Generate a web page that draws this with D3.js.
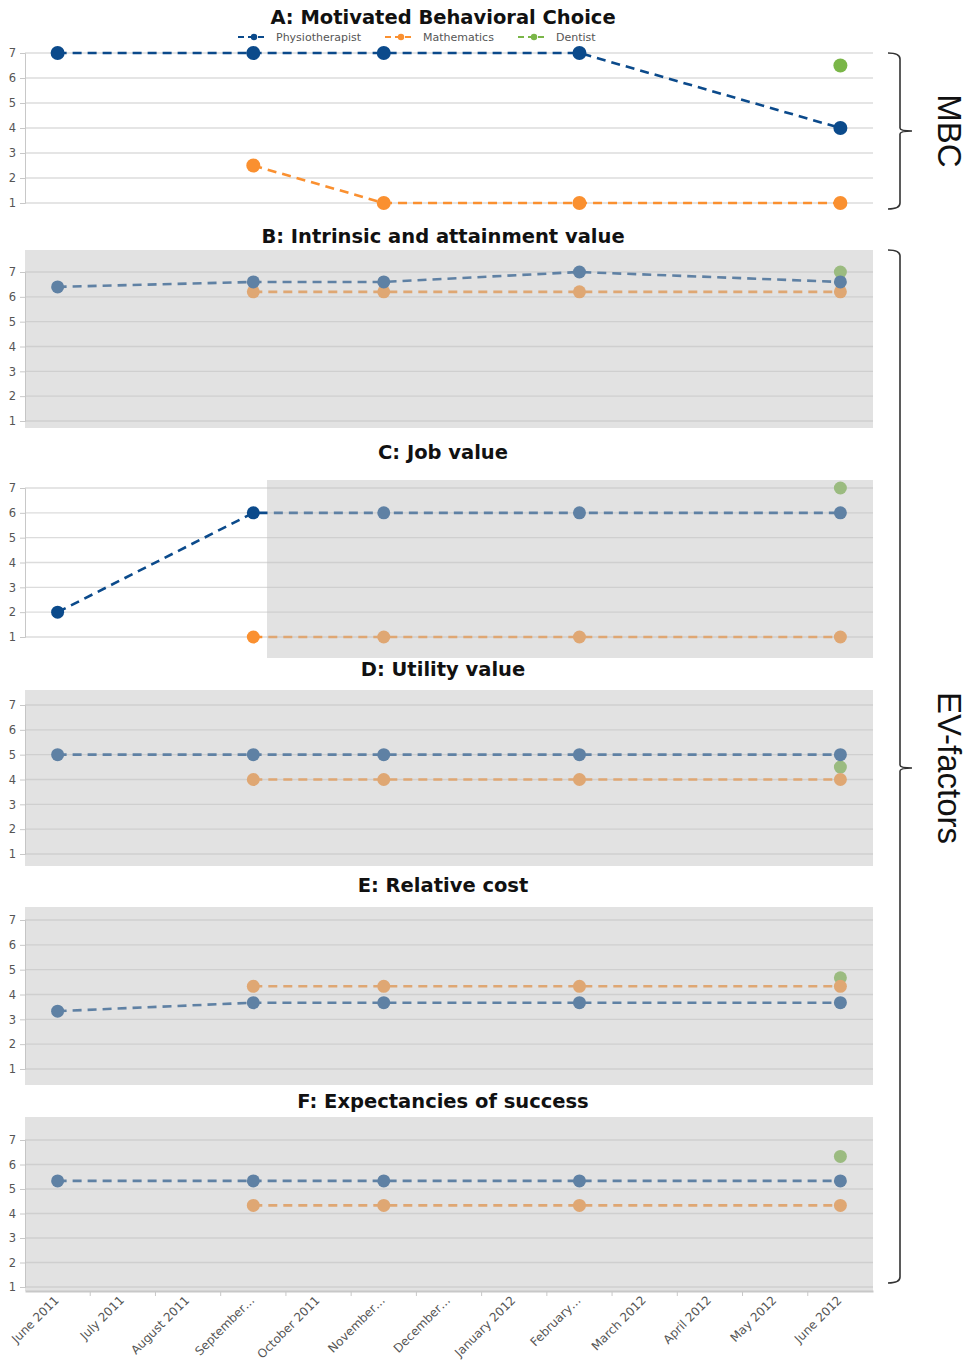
<!DOCTYPE html>
<html>
<head>
<meta charset="utf-8">
<script src="https://cdn.jsdelivr.net/npm/d3@7"></script>
<style>
  body { margin: 0; background: #fff; }
  svg text { font-family: "DejaVu Sans", sans-serif; }
</style>
</head>
<body>
<svg id="chart" width="972" height="1363"></svg>
<script>
// months on the shared x axis
const months = ["June 2011", "July 2011", "August 2011", "September…", "October 2011", "November…",
  "December…", "January 2012", "February…", "March 2012", "April 2012", "May 2012", "June 2012"];
const seriesNames = ["Physiotherapist", "Mathematics", "Dentist"];
const yTicks = [1, 2, 3, 4, 5, 6, 7];

// measurement months per series
const physioMonths = ["June 2011", "September…", "November…", "February…", "June 2012"];
const mathMonths = ["September…", "November…", "February…", "June 2012"];
const dentistMonths = ["June 2012"];

// A: Motivated Behavioral Choice
const physioA = [7, 7, 7, 7, 4];
const mathA = [2.5, 1, 1, 1];
const dentistA = [6.5];
// B: Intrinsic and attainment value
const physioB = [6.4, 6.6, 6.6, 7, 6.6];
const mathB = [6.2, 6.2, 6.2, 6.2];
const dentistB = [7];
// C: Job value
const physioC = [2, 6, 6, 6, 6];
const mathC = [1, 1, 1, 1];
const dentistC = [7];
// D: Utility value
const physioD = [5, 5, 5, 5, 5];
const mathD = [4, 4, 4, 4];
const dentistD = [4.5];
// E: Relative cost
const physioE = [3.33, 3.67, 3.67, 3.67, 3.67];
const mathE = [4.33, 4.33, 4.33, 4.33];
const dentistE = [4.67];
// F: Expectancies of success
const physioF = [5.33, 5.33, 5.33, 5.33, 5.33];
const mathF = [4.33, 4.33, 4.33, 4.33];
const dentistF = [6.33];

const colors = { Physiotherapist: "#0b4a8b", Mathematics: "#fa9030", Dentist: "#7ab648" };

const panels = [
  { title: "A: Motivated Behavioral Choice", physio: physioA, math: mathA, dentist: dentistA,
    y7: 53, y1: 203, titleY: 24, shade: null, r: 7 },
  { title: "B: Intrinsic and attainment value", physio: physioB, math: mathB, dentist: dentistB,
    y7: 272, y1: 421, titleY: 243, shade: { x0: 25, y0: 250, y1: 428 }, r: 6.5 },
  { title: "C: Job value", physio: physioC, math: mathC, dentist: dentistC,
    y7: 488, y1: 637, titleY: 459, shade: { x0: 267, y0: 480, y1: 658 }, r: 6.5 },
  { title: "D: Utility value", physio: physioD, math: mathD, dentist: dentistD,
    y7: 705, y1: 854, titleY: 676, shade: { x0: 25, y0: 690, y1: 866 }, r: 6.5 },
  { title: "E: Relative cost", physio: physioE, math: mathE, dentist: dentistE,
    y7: 920, y1: 1069, titleY: 892, shade: { x0: 25, y0: 907, y1: 1085 }, r: 6.5 },
  { title: "F: Expectancies of success", physio: physioF, math: mathF, dentist: dentistF,
    y7: 1140, y1: 1287, titleY: 1108, shade: { x0: 25, y0: 1117, y1: 1291 }, r: 6.5 }
];

const svg = d3.select("#chart");
const left = 25, right = 873;

const x = d3.scaleBand().domain(months).range([left, right]);
const cx = m => x(m) + x.bandwidth() / 2;

panels.forEach(p => {
  const y = d3.scaleLinear().domain([1, 7]).range([p.y1, p.y7]);
  const g = svg.append("g");

  // grid lines
  g.append("g").selectAll("line")
    .data(yTicks)
    .join("line")
      .attr("x1", left).attr("x2", right)
      .attr("y1", d => y(d)).attr("y2", d => y(d))
      .attr("stroke", "#dcdcdc").attr("stroke-width", 1.3);

  // y axis
  const ax = g.append("g")
    .attr("transform", `translate(${left},0)`)
    .call(d3.axisLeft(y).tickValues(yTicks).tickSize(5).tickFormat(d3.format("d")));
  ax.select(".domain").attr("stroke", "#c8c8c8");
  ax.selectAll(".tick line").attr("stroke", "#c8c8c8");
  ax.selectAll(".tick text").attr("fill", "#555").attr("font-size", 11.5).attr("x", -9);

  const series = [
    { name: "Dentist", months: dentistMonths, vals: p.dentist },
    { name: "Mathematics", months: mathMonths, vals: p.math },
    { name: "Physiotherapist", months: physioMonths, vals: p.physio }
  ];

  const line = d3.line().x(d => cx(d.m)).y(d => y(d.v));
  series.forEach(s => {
    const pts = s.months.map((m, i) => ({ m: m, v: s.vals[i] }));
    if (pts.length > 1) {
      g.append("path")
        .datum(pts)
        .attr("d", line)
        .attr("fill", "none")
        .attr("stroke", colors[s.name])
        .attr("stroke-width", 2.6)
        .attr("stroke-dasharray", "9,6");
    }
    g.append("g").selectAll("circle")
      .data(pts)
      .join("circle")
        .attr("cx", d => cx(d.m))
        .attr("cy", d => y(d.v))
        .attr("r", p.r)
        .attr("fill", colors[s.name]);
  });

  // translucent grey panel laid over the marks
  if (p.shade) {
    g.append("rect")
      .attr("x", p.shade.x0).attr("y", p.shade.y0)
      .attr("width", right - p.shade.x0).attr("height", p.shade.y1 - p.shade.y0)
      .attr("fill", "rgb(193,193,193)").attr("fill-opacity", 0.465);
  }

  svg.append("text")
    .attr("x", 443).attr("y", p.titleY)
    .attr("text-anchor", "middle")
    .attr("font-size", 19.5).attr("font-weight", "bold")
    .attr("letter-spacing", 0)
    .attr("fill", "#111")
    .text(p.title);
});

// legend under title A
const legendX = [238, 385, 518];
const legend = svg.append("g").attr("transform", "translate(0,37)");
seriesNames.forEach((n, i) => {
  const lg = legend.append("g").attr("transform", `translate(${legendX[i]},0)`);
  lg.append("line").attr("x1", 0).attr("x2", 26).attr("y1", 0).attr("y2", 0)
    .attr("stroke", colors[n]).attr("stroke-width", 2.2).attr("stroke-dasharray", "6,4");
  lg.append("circle").attr("cx", 16).attr("cy", 0).attr("r", 3.2).attr("fill", colors[n]);
  lg.append("text").attr("x", 38).attr("y", 4)
    .attr("font-size", 11).attr("fill", "#555").text(n);
});

// bottom x axis
const xa = svg.append("g")
  .attr("transform", "translate(0,1291)")
  .call(d3.axisBottom(x).tickSize(0).tickSizeOuter(0));
xa.select(".domain").attr("stroke", "#c8c8c8").attr("stroke-width", 2);
xa.selectAll(".tick text")
  .attr("fill", "#555").attr("font-size", 12)
  .attr("text-anchor", "end")
  .attr("transform", "translate(-1,7) rotate(-45)")
  .attr("dy", "0.35em").attr("y", 0);
svg.append("g").selectAll("line")
  .data(months.slice(1))
  .join("line")
    .attr("x1", d => x(d)).attr("x2", d => x(d))
    .attr("y1", 1291).attr("y2", 1296)
    .attr("stroke", "#c8c8c8");

// right-hand braces
function brace(top, bottom, mid) {
  const xv = 900, xe = 888, xn = 912;
  return `M${xe},${top} Q${xv},${top} ${xv},${top + 6} L${xv},${mid - 3} Q${xv},${mid} ${xn},${mid}` +
    ` Q${xv},${mid} ${xv},${mid + 3} L${xv},${bottom - 6} Q${xv},${bottom} ${xe},${bottom}`;
}
const braces = [
  { label: "MBC", top: 53, bottom: 209, mid: 131 },
  { label: "EV-factors", top: 250, bottom: 1283, mid: 768 }
];
braces.forEach(b => {
  svg.append("path").attr("d", brace(b.top, b.bottom, b.mid))
    .attr("fill", "none").attr("stroke", "#333").attr("stroke-width", 1.6);
  svg.append("text")
    .attr("transform", `translate(938,${b.mid}) rotate(90)`)
    .attr("text-anchor", "middle")
    .style("font-family", "'Liberation Sans', Arial, sans-serif")
    .attr("font-size", 33).attr("fill", "#111")
    .text(b.label);
});
</script>
</body>
</html>
